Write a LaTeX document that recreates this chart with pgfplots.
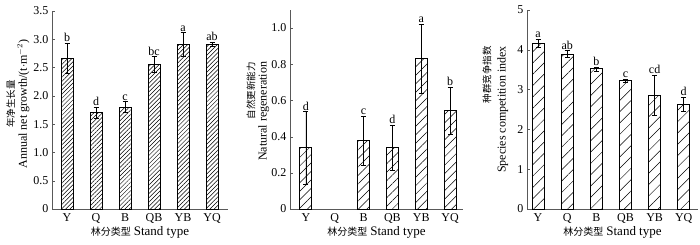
\documentclass[border=0pt]{standalone}
\usepackage{fontspec}
\setmainfont{Liberation Serif}
\newfontfamily\cjk{Noto Sans CJK SC}
\usepackage{pgfplots}
\pgfplotsset{compat=1.18}
\usetikzlibrary{patterns.meta}

\newcommand{\cj}[1]{{\cjk\fontsize{9.5}{12}\selectfont #1}}
\pgfplotsset{
 panel/.style={
  scale only axis, axis lines=left, axis line style={black!65, -},
  xtick={0,...,5}, xticklabels={Y,Q,B,QB,YB,YQ},
  xtick style={draw=none}, ytick style={black!65}, tick align=inside, major tick length=3pt,
  ymin=0, bar width=12pt,
  tick label style={font=\fontsize{12}{14}\selectfont},
  xticklabel style={yshift=-1pt},
  label style={font=\fontsize{12}{13}\selectfont},
  xlabel style={yshift=1pt, inner sep=1pt},
  xlabel={{\cjk\fontsize{10}{12}\selectfont 林分类型} {\fontsize{13}{14}\selectfont Stand type}},
  /pgf/number format/assume math mode=true,
  enlarge y limits=false, clip=false,
 },
 bars/.style={ybar, draw=black, line width=0.8pt, pattern={Lines[angle=45,distance=#1,line width=0.5pt]},
  error bars/.cd, y dir=both, y explicit,
  error bar style={black, line width=0.7pt},
  error mark options={rotate=90, mark size=2.5pt, black, line width=0.7pt}},
 letters/.style={draw=none, mark=none,
  point meta=explicit symbolic, nodes near coords,
  nodes near coords style={anchor=south, inner sep=1pt, font=\fontsize{12}{12}\selectfont, black}},
}

\begin{document}
\begin{tikzpicture}
\useasboundingbox (0,0) rectangle (700pt,245pt);

% Panel 1
\begin{axis}[panel, at={(52pt,36pt)}, anchor=south west, width=176pt, height=198pt,
  xmin=-0.52, xmax=5.55, ymax=3.5,
  ytick={0,0.5,1,1.5,2,2.5,3,3.5}, yticklabels={0,0.5,1.0,1.5,2.0,2.5,3.0,3.5},
  ylabel style={at={([xshift=-34pt]axis description cs:0,0.53)}, anchor=center},
  ylabel={\begin{tabular}{@{}c@{}}\cj{年净生长量}\\[-1pt]Annual net growth/(t$\cdot$m$^{-2}$)\end{tabular}}]
\addplot[bars=3pt] coordinates {(0,2.66)+-(0,0.27) (1,1.70)+-(0,0.10) (2,1.80)+-(0,0.10) (3,2.55)+-(0,0.14) (4,2.91)+-(0,0.21) (5,2.91)+-(0,0.04)};
\addplot[letters] coordinates {(0,2.93)[b] (1,1.80)[d] (2,1.90)[c] (3,2.69)[bc] (4,3.12)[a] (5,2.95)[ab]};
\end{axis}

% Panel 2
\begin{axis}[panel, at={(290pt,36pt)}, anchor=south west, width=173pt, height=199pt,
  xmin=-0.55, xmax=5.45, ymax=1.1,
  ytick={0,0.2,0.4,0.6,0.8,1.0}, yticklabels={0,0.2,0.4,0.6,0.8,1.0},
  ylabel style={at={([xshift=-32pt]axis description cs:0,0.49)}, anchor=center},
  ylabel={\begin{tabular}{@{}r@{}}\cj{自然更新能力}\\[-1pt]Natural regeneration\end{tabular}}]
\addplot[bars=6pt] coordinates {(0,0.339)+-(0,0.20) (2,0.377)+-(0,0.137) (3,0.339)+-(0,0.125) (4,0.832)+-(0,0.19) (5,0.543)+-(0,0.13)};
\addplot[letters] coordinates {(0,0.539)[d] (2,0.514)[c] (3,0.464)[d] (4,1.022)[a] (5,0.673)[b]};
\end{axis}

% Panel 3
\begin{axis}[panel, at={(527pt,36pt)}, anchor=south west, width=171pt, height=199pt,
  xmin=-0.38, xmax=5.49, ymax=5,
  ytick={0,1,2,3,4,5},
  ylabel style={at={([xshift=-31.5pt]axis description cs:0,0.50)}, anchor=center},
  ylabel={\begin{tabular}{@{}r@{}}\cj{种群竞争指数}\\[2pt]Species competition index\end{tabular}}]
\addplot[bars=8pt] coordinates {(0,4.16)+-(0,0.11) (1,3.89)+-(0,0.09) (2,3.52)+-(0,0.05) (3,3.22)+-(0,0.04) (4,2.86)+-(0,0.50) (5,2.63)+-(0,0.18)};
\addplot[letters] coordinates {(0,4.27)[a] (1,3.98)[ab] (2,3.57)[b] (3,3.26)[c] (4,3.36)[cd] (5,2.81)[d]};
\end{axis}
\end{tikzpicture}
\end{document}
